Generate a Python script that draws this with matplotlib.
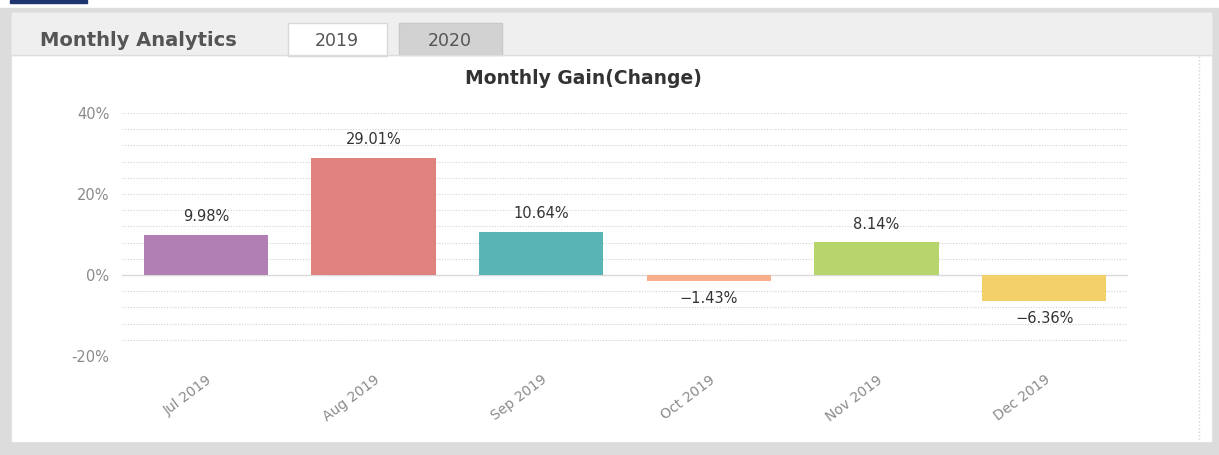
import numpy as np
import matplotlib.pyplot as plt
from matplotlib.patches import Rectangle
from matplotlib.ticker import MultipleLocator, FuncFormatter

months = ["Jul 2019", "Aug 2019", "Sep 2019", "Oct 2019", "Nov 2019", "Dec 2019"]
gains = [9.98, 29.01, 10.64, -1.43, 8.14, -6.36]
bar_colors = ["#b17fb3", "#e0837f", "#59b4b5", "#f8ae8b", "#b8d56b", "#f4d06b"]
tabs = ["2019", "2020"]

W, H = 1219, 455
fig = plt.figure(figsize=(W / 100, H / 100), dpi=100)
fig.patch.set_facecolor("white")

# page frame drawn in pixel coords
bg = fig.add_axes([0, 0, 1, 1], zorder=0)
bg.set_xlim(0, W)
bg.set_ylim(H, 0)
bg.axis("off")
bg.add_patch(Rectangle((0, 8), W, H - 8, color="#dcdcdc"))
bg.add_patch(Rectangle((10, 0), 77, 3, color="#1f3570"))
bg.add_patch(Rectangle((12, 13), 1199, 428, color="white"))
bg.add_patch(Rectangle((12, 13), 1199, 42, color="#efefef"))
bg.plot([12, 1211], [55, 55], color="#dddddd", lw=1)
bg.add_patch(Rectangle((288, 23), 99, 33, facecolor="white", edgecolor="#d8d8d8", lw=1))
bg.add_patch(Rectangle((399, 23), 103, 32, facecolor="#d2d2d2", edgecolor="#c8c8c8", lw=1))
bg.plot([1199, 1199], [56, 440], color="#d5d5d5", lw=1, ls=(0, (1, 1.5)))
bg.text(40, 40, "Monthly Analytics", fontsize=14, fontweight="bold",
        color="#555555", ha="left", va="center")
bg.text(337, 41, tabs[0], fontsize=12.5, color="#555555", ha="center", va="center")
bg.text(450, 41, tabs[1], fontsize=12.5, color="#555555", ha="center", va="center")
bg.text(583, 78, "Monthly Gain(Change)", fontsize=13.5, fontweight="semibold",
        color="#333333", ha="center", va="center")

# main chart
ax = fig.add_axes([122 / W, 1 - 356 / H, 1006 / W, 243 / H], zorder=1)
ax.set_facecolor("none")
x = np.arange(len(months))
ax.bar(x, gains, width=0.74, color=bar_colors, zorder=3)
ax.set_xlim(-0.5, len(months) - 0.5)
ax.set_ylim(-20, 40)

ax.yaxis.set_major_locator(MultipleLocator(20))
ax.yaxis.set_minor_locator(MultipleLocator(4))
ax.yaxis.set_major_formatter(FuncFormatter(lambda v, p: f"{v:.0f}%"))
ax.grid(axis="y", which="both", color="#d2d2d2", lw=0.8, ls=(0, (1, 1.5)), zorder=0)
ax.axhline(0, color="#e0e0e0", lw=1, zorder=1)
for s in ax.spines.values():
    s.set_visible(False)
ax.tick_params(axis="both", which="both", length=0)
ax.tick_params(axis="y", labelsize=10.5, labelcolor="#8a8a8a", pad=9)
ax.set_xticks(x)
ax.set_xticklabels(months, rotation=37, ha="right", rotation_mode="anchor",
                   fontsize=10, color="#8a8a8a")
ax.tick_params(axis="x", pad=12)

for xi, g in zip(x, gains):
    off = 2.6 if g >= 0 else -2.6
    txt = f"{g:.2f}%".replace("-", "\u2212")
    ax.text(xi, g + off, txt, ha="center",
            va="bottom" if g >= 0 else "top", fontsize=10.5, color="#333333")

plt.savefig("out.png", dpi=100)
